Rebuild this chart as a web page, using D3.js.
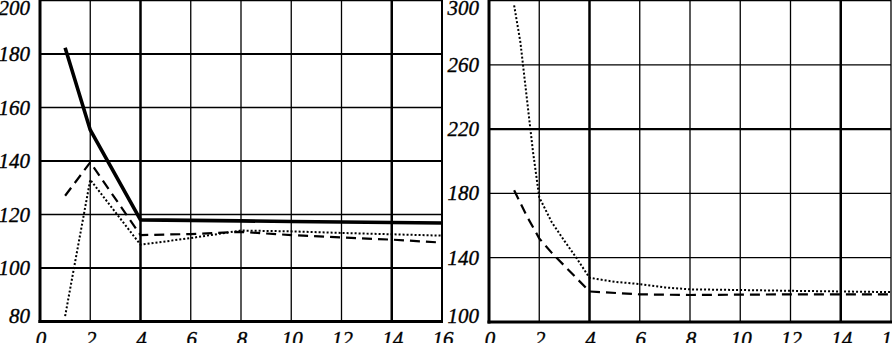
<!DOCTYPE html>
<html>
<head>
<meta charset="utf-8">
<script src="https://cdn.jsdelivr.net/npm/d3@7"></script>
<style>
  body { margin: 0; background: #fff; }
  svg { display: block; }
  text { font-family: "Liberation Serif", serif; font-style: italic; font-size: 21px; fill: #000; stroke: #000; stroke-width: 0.35px; }
</style>
</head>
<body>
<div id="chart"></div>
<script>
const width = 892
const height = 343

// left panel
const leftX = [1, 2, 4, 6, 8, 10, 12, 14, 16]
const leftSolid = [182.3, 151.6, 118, 117.8, 117.6, 117.4, 117.2, 117, 116.8]
const leftDashed = [127, 139.5, 112.3, 112.7, 113.5, 112.3, 111.4, 110.6, 109.5]
const leftDotted = [82, 133, 108.7, 111.2, 114, 113.7, 113.1, 112.6, 112.1]
const leftYTicks = [80, 100, 120, 140, 160, 180, 200]
const leftThickY = [100, 140, 180]

// right panel
const rightDottedX = [1, 1.25, 1.5, 1.75, 2, 2.5, 3, 3.5, 4, 5, 6, 7, 8, 10, 12, 14, 16]
const rightDotted = [297, 274, 240, 206, 177.6, 162, 150.5, 139.4, 127.5, 125, 123.6, 121.5, 120.3, 119.9, 119.4, 119, 118.6]
const rightDashedX = [1, 1.5, 2, 2.5, 3, 3.5, 4, 6, 8, 10, 12, 14, 16]
const rightDashed = [182, 166, 152, 143, 135, 127, 119, 117.2, 116.8, 117, 117.2, 117.2, 117.2]
const rightYTicks = [100, 140, 180, 220, 260, 300]
const rightThickY = [220]

const xTicks = [0, 2, 4, 6, 8, 10, 12, 14, 16]
const thickX = [4, 14]

let svg = d3.select('#chart').append('svg').attr('width', width).attr('height', height)

function drawPanel(opts) {
    let x = d3.scaleLinear().domain([0, 16]).range([opts.left, opts.right])
    let y = d3.scaleLinear().domain(opts.yDomain).range([opts.bottom, opts.top])
    let g = svg.append('g')

    // grid
    g.selectAll('line.vgrid').data(xTicks.slice(1)).enter().append('line')
        .attr('x1', d => x(d)).attr('x2', d => x(d))
        .attr('y1', opts.top - 1).attr('y2', opts.bottom)
        .attr('stroke', '#000')
        .attr('stroke-width', d => thickX.includes(d) ? 2.5 : (d == 16 ? opts.rightEdge : 1.3))
    g.selectAll('line.hgrid').data(opts.yTicks.slice(1)).enter().append('line')
        .attr('x1', opts.left).attr('x2', opts.right)
        .attr('y1', d => y(d)).attr('y2', d => y(d))
        .attr('stroke', '#000')
        .attr('stroke-width', d => opts.thickY.includes(d) ? 2.2 : 1.3)

    // lines
    opts.series.forEach(s => {
        let line = d3.line().x((d, i) => x(s.x[i])).y(d => y(d))
        g.append('path').datum(s.values)
            .attr('d', line)
            .attr('fill', 'none')
            .attr('stroke', '#000')
            .attr('stroke-width', s.width)
            .attr('stroke-dasharray', s.dash)
            .attr('stroke-linejoin', 'round')
    })

    // axes borders
    g.append('line').attr('x1', opts.left).attr('x2', opts.left)
        .attr('y1', opts.top - 1).attr('y2', opts.bottom + 1.5)
        .attr('stroke', '#000').attr('stroke-width', 3)
    g.append('line').attr('x1', opts.left - 1.5).attr('x2', opts.right + 1)
        .attr('y1', opts.bottom).attr('y2', opts.bottom)
        .attr('stroke', '#000').attr('stroke-width', 3)

    // tick labels
    g.selectAll('text.ylab').data(opts.yTicks).enter().append('text')
        .attr('x', opts.left - 10)
        .attr('y', d => Math.max(15, Math.min(323, y(d) + 7)))
        .attr('text-anchor', 'end')
        .text(d => d)
    g.selectAll('text.xlab').data(xTicks).enter().append('text')
        .attr('x', d => x(d) + 1)
        .attr('y', 346)
        .attr('text-anchor', 'middle')
        .text(d => d)
}

drawPanel({
    left: 40, right: 442, top: 0.5, bottom: 321.5,
    yDomain: [80, 200], yTicks: leftYTicks, thickY: leftThickY, rightEdge: 2,
    series: [
        { x: leftX, values: leftSolid, width: 3.6, dash: null },
        { x: leftX, values: leftDashed, width: 2.2, dash: '10,6' },
        { x: leftX, values: leftDotted, width: 2, dash: '2,2' }
    ]
})

drawPanel({
    left: 489, right: 891, top: 0.5, bottom: 322,
    yDomain: [100, 300], yTicks: rightYTicks, thickY: rightThickY, rightEdge: 1.3,
    series: [
        { x: rightDashedX, values: rightDashed, width: 2.2, dash: '10,6' },
        { x: rightDottedX, values: rightDotted, width: 2, dash: '2,2' }
    ]
})
</script>
</body>
</html>
